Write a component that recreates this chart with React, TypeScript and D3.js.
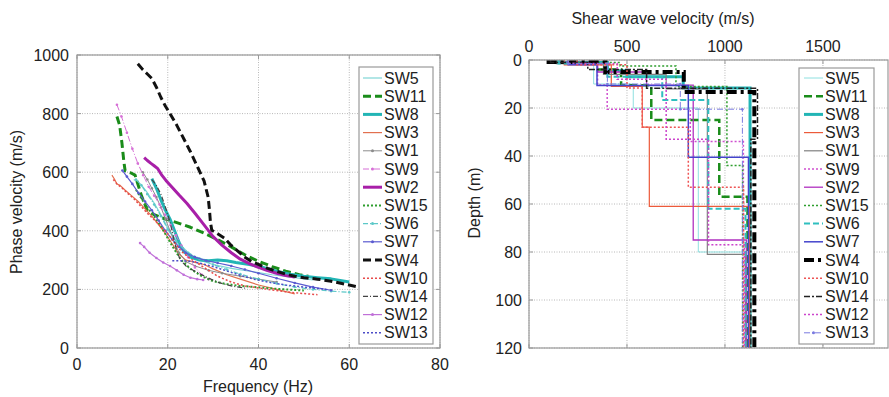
import React from "react";
import * as d3 from "d3";

// ---------- Left plot: dispersion curves (frequency Hz, phase velocity m/s) ----------
const seriesNames = ["SW5","SW11","SW8","SW3","SW1","SW9","SW2","SW15","SW6","SW7","SW4","SW10","SW14","SW12","SW13"];

const dispSW5: [number, number][] = [[12.5,575],[14,560],[15.5,530],[17,495],[18.5,455],[20,410],[22,365],[24.5,325],[27,300],[30,285],[34,272],[38,262],[43,250],[48,240],[52,232]];
const dispSW11: [number, number][] = [[8.8,790],[9.4,760],[9.9,700],[10.3,640],[10.6,605],[11.8,598],[12.8,590],[13.4,560],[14.2,520],[15.5,470],[17,455],[19.5,440],[22,428],[25,412],[28,392],[31,370],[34,345],[37,318],[40,296],[43,278],[46,262],[49,250],[51,245]];
const dispSW8: [number, number][] = [[16.5,578],[17.5,545],[18.5,505],[19.5,470],[20.5,440],[21.5,400],[22.5,360],[23.5,330],[25,310],[27,300],[29,298],[31,300],[33,298],[35,292],[38,285],[41,275],[44,262],[47,252],[50,245],[53,240],[56,236],[60,225]];
const dispSW3: [number, number][] = [[7.7,590],[8.3,575],[8.8,560],[9.5,555],[10.5,540],[12,520],[13.5,500],[15,475],[16.5,450],[18,420],[19.5,390],[21,355],[22.5,320],[24,300],[26,292],[28,285],[30,270],[33,250],[36,235],[40,215],[44,200],[48,185]];
const dispSW1: [number, number][] = [[14.5,600],[15.5,575],[16.5,545],[17.5,515],[18.5,480],[19.5,440],[20.5,400],[21.5,360],[22.5,325],[24,295],[26,280],[29,265],[32,255],[36,245],[40,235],[44,225]];
const dispSW9: [number, number][] = [[8.8,830],[9.8,790],[11,735],[12.2,680],[13.4,630],[14.6,590],[15.8,550],[17,520],[18.2,490],[19.4,455],[20.6,420],[21.8,385],[23,350],[24.5,310],[26,275],[27.5,250],[29,235]];
const dispSW2: [number, number][] = [[14.8,650],[15.5,640],[16.3,630],[17,622],[17.8,612],[18.6,592],[19.6,572],[21,548],[22.5,522],[24.2,494],[26,460],[28,420],[30,380],[32,350],[34,325],[36,303],[38,288],[40,275],[42,264],[44,255],[46,247],[48,242]];
const dispSW15: [number, number][] = [[13,540],[14.2,510],[15.5,480],[17,450],[18.5,415],[20,375],[21.5,335],[23,300],[25,270],[27.5,245],[30,228],[33,218],[36,212],[40,207],[44,202],[48,198],[50,196]];
const dispSW6: [number, number][] = [[13,575],[14.2,555],[15.5,525],[17,490],[18.5,450],[20,405],[22,360],[24.5,325],[27,305],[30,285],[33,268],[36,252],[40,235],[44,220],[48,208],[52,200],[56,194],[60,190]];
const dispSW7: [number, number][] = [[10,606],[11,585],[12.2,560],[13.5,530],[15,500],[16.5,470],[18,435],[19.5,400],[21,370],[22.5,345],[24,325],[26,310],[28.5,298],[31,290],[34,280],[37,268],[40,255],[44,238],[48,222],[52,208],[56,197]];
const dispSW4: [number, number][] = [[13.4,970],[14.5,950],[15.5,935],[16.5,920],[17.5,890],[18.5,855],[19.5,825],[20.5,800],[22,760],[23.5,715],[25,670],[26.5,620],[28,570],[28.9,515],[29.2,470],[29.4,430],[29.7,402],[31,390],[32.5,375],[34,350],[35.5,330],[37,310],[38.5,295],[40,285],[42,272],[44,262],[46,252],[48,245],[50,240],[53,235],[56,228],[59,218],[62,208]];
const dispSW10: [number, number][] = [[8,575],[8.8,560],[9.8,548],[11,530],[12.5,510],[14,485],[15.5,460],[17,438],[18.5,415],[20,390],[21.5,360],[23,330],[25,305],[27,285],[29,265],[31,245],[34,225],[37,212],[40,205],[43,198],[46,192],[49,187],[53,182]];
const dispSW14: [number, number][] = [[16.5,575],[17.5,555],[18.5,525],[19.5,480],[20.5,430],[21.3,375],[22,330],[22.8,300],[24,280],[25.5,266],[27.5,250],[29.5,235],[31.5,222],[34,212],[37.5,203]];
const dispSW12: [number, number][] = [[13.9,358],[14.8,345],[16,325],[17.5,307],[19,292],[20.5,280],[22,265],[23.5,250],[25,240],[26.5,235],[27.8,232]];
const dispSW13: [number, number][] = [[21,298],[23,298],[25,296],[27,290],[30,278],[33,263],[36,248],[39,235],[42,225],[46,215],[50,208],[55,200]];

const freqTicks = [0, 20, 40, 60, 80];
const phaseTicks = [0, 200, 400, 600, 800, 1000];

// ---------- Right plot: shear-wave velocity profiles (layer Vs, layer top depth) ----------
const vsSW5 = [130, 330, 532, 864, 1108];        const topSW5 = [0, 1.5, 10, 20, 80];
const vsSW11 = [150, 350, 470, 624, 971, 1115];  const topSW11 = [0, 1, 4, 10.5, 25, 57];
const vsSW8 = [160, 400, 500, 787, 1128];        const topSW8 = [0, 1, 4.5, 7, 11.7];
const vsSW3 = [180, 420, 578, 614, 1126];        const topSW3 = [0, 2, 11, 28, 61];
const vsSW1 = [140, 380, 700, 910, 1105];        const topSW1 = [0, 1.5, 6, 12, 81];
const vsSW9 = [200, 350, 399, 823, 1094];        const topSW9 = [0, 1.5, 10.4, 20.5, 34];
const vsSW2 = [150, 350, 600, 838, 1110];        const topSW2 = [0, 1, 5, 10.5, 75];
const vsSW15 = [200, 465, 750, 1010, 1090];      const topSW15 = [0, 1, 2.5, 11, 44];
const vsSW6 = [150, 400, 680, 915, 1105];        const topSW6 = [0, 1.5, 7, 16.7, 62];
const vsSW7 = [200, 347, 813, 1120];             const topSW7 = [0, 2, 10.6, 40.5];
const vsSW4 = [100, 390, 790, 1150];             const topSW4 = [0, 0.8, 5, 13.3];
const vsSW10 = [245, 500, 578, 813, 1095];       const topSW10 = [0, 2, 11.7, 28, 53];
const vsSW14 = [110, 300, 600, 1166, 1132];      const topSW14 = [0, 1, 4, 11.8, 33];
const vsSW12 = [200, 450, 700, 916, 1100];       const topSW12 = [0, 1.5, 8, 33, 77];
const vsSW13 = [200, 400, 772, 1089];            const topSW13 = [0, 1.5, 10, 20.5];

const vsTicks = [0, 500, 1000, 1500];
const depthTicks = [0, 20, 40, 60, 80, 100, 120];
const maxDepth = 120;

// ---------- Styles ----------
type Sty = { color: string; width: number; dash?: string; marker?: boolean };
const leftStyles: Record<string, Sty> = {
  SW5: { color: "#7ed6d6", width: 1.2 },
  SW11: { color: "#1a8c1a", width: 3, dash: "8,4" },
  SW8: { color: "#22b5b5", width: 3 },
  SW3: { color: "#e2704f", width: 1.2 },
  SW1: { color: "#8c8c8c", width: 1, marker: true },
  SW9: { color: "#d66fd6", width: 1, dash: "6,2,1,2", marker: true },
  SW2: { color: "#a81fa8", width: 3 },
  SW15: { color: "#2e9e2e", width: 2, dash: "2,2" },
  SW6: { color: "#5cc8c8", width: 1.2, dash: "5,2,1,2", marker: true },
  SW7: { color: "#5b5bd0", width: 1.2, marker: true },
  SW4: { color: "#111111", width: 3, dash: "8,4" },
  SW10: { color: "#e84a4a", width: 1.5, dash: "2,2" },
  SW14: { color: "#444444", width: 1.2, dash: "5,2,1,2" },
  SW12: { color: "#c070d8", width: 1.2, marker: true },
  SW13: { color: "#4d4dc8", width: 1.5, dash: "2,2" },
};
const rightStyles: Record<string, Sty> = {
  SW5: { color: "#8ee0e0", width: 1 },
  SW11: { color: "#1a8c1a", width: 2.5, dash: "8,4" },
  SW8: { color: "#22b5b5", width: 3 },
  SW3: { color: "#ec5a3a", width: 1.2 },
  SW1: { color: "#808080", width: 1.2 },
  SW9: { color: "#d050d0", width: 1.5, dash: "2,2" },
  SW2: { color: "#b030c0", width: 1.3 },
  SW15: { color: "#2e9e2e", width: 1.5, dash: "2,2" },
  SW6: { color: "#2fbfbf", width: 2, dash: "6,3" },
  SW7: { color: "#4444cc", width: 1.5 },
  SW4: { color: "#000000", width: 4, dash: "10,4,3,4" },
  SW10: { color: "#ee5555", width: 1.5, dash: "2,2" },
  SW14: { color: "#222222", width: 1.5, dash: "6,2,2,2" },
  SW12: { color: "#cc44cc", width: 1.5, dash: "2,2" },
  SW13: { color: "#7a7ae0", width: 1, dash: "6,2,1,2", marker: true },
};

const dispData: Record<string, [number, number][]> = {
  SW5: dispSW5, SW11: dispSW11, SW8: dispSW8, SW3: dispSW3, SW1: dispSW1, SW9: dispSW9, SW2: dispSW2,
  SW15: dispSW15, SW6: dispSW6, SW7: dispSW7, SW4: dispSW4, SW10: dispSW10, SW14: dispSW14, SW12: dispSW12, SW13: dispSW13,
};
const profData: Record<string, [number[], number[]]> = {
  SW5: [vsSW5, topSW5], SW11: [vsSW11, topSW11], SW8: [vsSW8, topSW8], SW3: [vsSW3, topSW3], SW1: [vsSW1, topSW1],
  SW9: [vsSW9, topSW9], SW2: [vsSW2, topSW2], SW15: [vsSW15, topSW15], SW6: [vsSW6, topSW6], SW7: [vsSW7, topSW7],
  SW4: [vsSW4, topSW4], SW10: [vsSW10, topSW10], SW14: [vsSW14, topSW14], SW12: [vsSW12, topSW12], SW13: [vsSW13, topSW13],
};

const FONT = "'Liberation Sans', Arial, Helvetica, sans-serif";
const TXT = "#222";
const GRID = "#b8b8b8";
const FRAME = "#9a9a9a";

function stepPoints(vs: number[], tops: number[]): [number, number][] {
  const pts: [number, number][] = [];
  for (let i = 0; i < vs.length; i++) {
    const bottom = i + 1 < tops.length ? tops[i + 1] : maxDepth;
    pts.push([vs[i], tops[i]]);
    pts.push([vs[i], bottom]);
  }
  return pts;
}

function Legend({ x, y, w, h, styles, lineX0, lineX1, textX, rowY0, rowStep }: any) {
  return (
    <g>
      <rect x={x} y={y} width={w} height={h} fill="#fff" stroke={FRAME} strokeWidth={1.2} />
      {seriesNames.map((n, i) => {
        const s: Sty = styles[n];
        const yy = rowY0 + i * rowStep;
        return (
          <g key={n}>
            <line x1={lineX0} x2={lineX1} y1={yy} y2={yy} stroke={s.color} strokeWidth={s.width} strokeDasharray={s.dash} />
            {s.marker && <circle cx={(lineX0 + lineX1) / 2} cy={yy} r={1.5} fill={s.color} />}
            <text x={textX} y={yy + 5.5} fontSize={16} fill={TXT} fontFamily={FONT}>{n}</text>
          </g>
        );
      })}
    </g>
  );
}

export default function App() {
  // Left plot scales
  const fx = d3.scaleLinear().domain([0, 80]).range([77, 440]);
  const py = d3.scaleLinear().domain([0, 1000]).range([348, 55]);
  const lineL = d3.line<[number, number]>().x((d) => fx(d[0])).y((d) => py(d[1]));

  // Right plot scales
  const vx = d3.scaleLinear().domain([0, 1832]).range([529, 888]);
  const dy = d3.scaleLinear().domain([0, maxDepth]).range([60, 348]);
  const lineR = d3.line<[number, number]>().x((d) => vx(d[0])).y((d) => dy(d[1]));

  return (
    <svg width={889} height={397} style={{ position: "absolute", left: 0, top: 0, background: "#fff" }}
      fontFamily={FONT}>
      <defs>
        <clipPath id="clipL"><rect x={77} y={55} width={363} height={293} /></clipPath>
        <clipPath id="clipR"><rect x={529} y={60} width={359} height={288} /></clipPath>
      </defs>
      {/* ===== Left plot ===== */}
      <g>
        {freqTicks.map((t) => (
          <line key={"gx" + t} x1={fx(t)} x2={fx(t)} y1={py(0)} y2={py(1000)} stroke={GRID} strokeWidth={1} strokeDasharray="1,1.5" />
        ))}
        {phaseTicks.map((t) => (
          <line key={"gy" + t} x1={fx(0)} x2={fx(80)} y1={py(t)} y2={py(t)} stroke={GRID} strokeWidth={1} strokeDasharray="1,1.5" />
        ))}
        <g clipPath="url(#clipL)">
          {seriesNames.map((n) => {
            const s = leftStyles[n];
            const data = dispData[n];
            return (
              <g key={n}>
                <path d={lineL(data) || ""} fill="none" stroke={s.color} strokeWidth={s.width} strokeDasharray={s.dash} strokeLinejoin="round" />
                {s.marker && data.map((d, i) => (
                  <circle key={i} cx={fx(d[0])} cy={py(d[1])} r={1.3} fill={s.color} />
                ))}
              </g>
            );
          })}
        </g>
        <rect x={77} y={55} width={363} height={293} fill="none" stroke={FRAME} strokeWidth={1.2} />
        {freqTicks.map((t) => (
          <g key={"tx" + t}>
            <line x1={fx(t)} x2={fx(t)} y1={348} y2={344} stroke={FRAME} />
            <line x1={fx(t)} x2={fx(t)} y1={55} y2={59} stroke={FRAME} />
            <text x={fx(t)} y={370} textAnchor="middle" fontSize={16} fill={TXT}>{t}</text>
          </g>
        ))}
        {phaseTicks.map((t) => (
          <g key={"ty" + t}>
            <line x1={77} x2={81} y1={py(t)} y2={py(t)} stroke={FRAME} />
            <line x1={440} x2={436} y1={py(t)} y2={py(t)} stroke={FRAME} />
            <text x={69} y={py(t) + 6} textAnchor="end" fontSize={16} fill={TXT}>{t}</text>
          </g>
        ))}
        <text x={258} y={392} textAnchor="middle" fontSize={16} fill={TXT}>Frequency (Hz)</text>
        <text transform="translate(22,202) rotate(-90)" textAnchor="middle" fontSize={16} fill={TXT}>Phase velocity (m/s)</text>
        <Legend x={359} y={67} w={74} h={277} styles={leftStyles} lineX0={363} lineX1={382} textX={384} rowY0={78} rowStep={18.2} />
      </g>

      {/* ===== Right plot ===== */}
      <g>
        {vsTicks.map((t) => (
          <line key={"rgx" + t} x1={vx(t)} x2={vx(t)} y1={dy(0)} y2={dy(maxDepth)} stroke={GRID} strokeWidth={1} strokeDasharray="1,1.5" />
        ))}
        {depthTicks.map((t) => (
          <line key={"rgy" + t} x1={529} x2={888} y1={dy(t)} y2={dy(t)} stroke={GRID} strokeWidth={1} strokeDasharray="1,1.5" />
        ))}
        <g clipPath="url(#clipR)">
          {seriesNames.map((n) => {
            const s = rightStyles[n];
            const [vs, tops] = profData[n];
            const pts = stepPoints(vs, tops);
            return (
              <g key={n}>
                <path d={lineR(pts) || ""} fill="none" stroke={s.color} strokeWidth={s.width} strokeDasharray={s.dash} />
                {s.marker && pts.map((d, i) => (
                  <circle key={i} cx={vx(d[0])} cy={dy(d[1])} r={1.3} fill={s.color} />
                ))}
              </g>
            );
          })}
        </g>
        <rect x={529} y={60} width={359} height={288} fill="none" stroke={FRAME} strokeWidth={1.2} />
        {vsTicks.map((t) => (
          <g key={"rtx" + t}>
            <line x1={vx(t)} x2={vx(t)} y1={60} y2={64} stroke={FRAME} />
            <line x1={vx(t)} x2={vx(t)} y1={348} y2={344} stroke={FRAME} />
            <text x={vx(t)} y={52} textAnchor="middle" fontSize={16} fill={TXT}>{t}</text>
          </g>
        ))}
        {depthTicks.map((t) => (
          <g key={"rty" + t}>
            <line x1={529} x2={533} y1={dy(t)} y2={dy(t)} stroke={FRAME} />
            <text x={522} y={dy(t) + 6} textAnchor="end" fontSize={16} fill={TXT}>{t}</text>
          </g>
        ))}
        <text x={663} y={24} textAnchor="middle" fontSize={16} fill={TXT}>Shear wave velocity (m/s)</text>
        <text transform="translate(480,203) rotate(-90)" textAnchor="middle" fontSize={16} fill={TXT}>Depth (m)</text>
        <Legend x={799} y={68} w={75} h={276} styles={rightStyles} lineX0={804} lineX1={823} textX={825} rowY0={78} rowStep={18.2} />
      </g>
    </svg>
  );
}
